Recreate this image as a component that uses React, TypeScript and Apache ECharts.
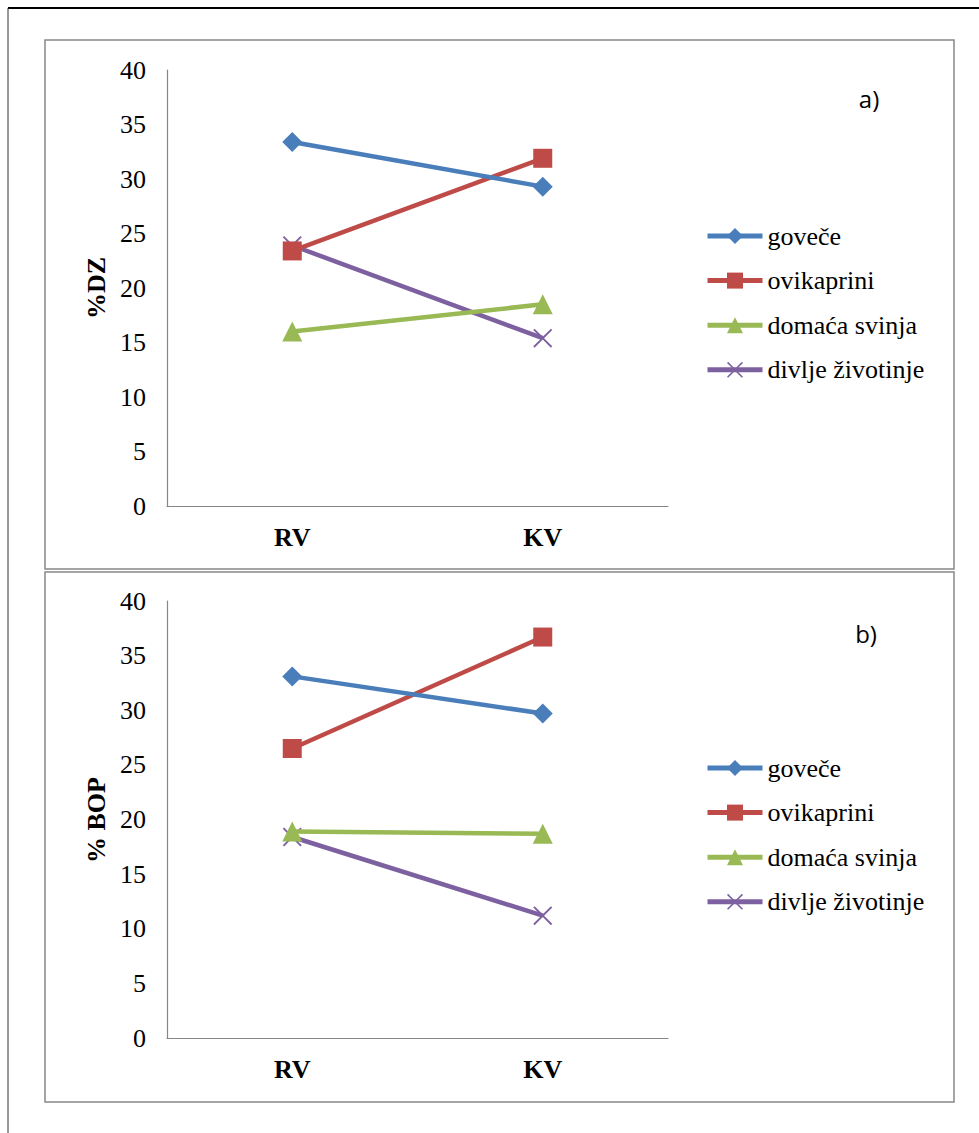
import React, { useEffect, useRef } from "react";
import * as echarts from "echarts";

const categories = ["RV", "KV"];
const seriesNames = ["goveče", "ovikaprini", "domaća svinja", "divlje životinje"];
const dzGovece = [33.4, 29.3];
const dzOvikaprini = [23.4, 31.9];
const dzSvinja = [16.0, 18.5];
const dzDivlje = [23.9, 15.4];
const bopGovece = [33.1, 29.7];
const bopOvikaprini = [26.5, 36.7];
const bopSvinja = [18.9, 18.7];
const bopDivlje = [18.4, 11.2];
const yTicks = [0, 5, 10, 15, 20, 25, 30, 35, 40];

const colors = ["#4A7EBB", "#BE4B48", "#98B954", "#7D60A0"];
const crossPath =
  "path://M0,1.4 L1.4,0 L10,8.6 L18.6,0 L20,1.4 L11.4,10 L20,18.6 L18.6,20 L10,11.4 L1.4,20 L0,18.6 L8.6,10 Z";
const symbols = ["diamond", "rect", "triangle", crossPath];
const symbolSizes = [20, 19, 20, 19];

const SERIF = "Times New Roman, Liberation Serif, serif";

export default function App() {
  const ref = useRef<HTMLDivElement>(null);
  useEffect(() => {
    if (!ref.current) return;
    const chart = echarts.init(ref.current, null, { renderer: "svg" });
    const dataA = [dzGovece, dzOvikaprini, dzSvinja, dzDivlje];
    const dataB = [bopGovece, bopOvikaprini, bopSvinja, bopDivlje];
    const mkSeries = (data: number[][], idx: number) =>
      data.map((d, i) => ({
        name: seriesNames[i],
        type: "line",
        xAxisIndex: idx,
        yAxisIndex: idx,
        data: d,
        symbol: symbols[i],
        symbolSize: symbolSizes[i],
        showAllSymbol: true,
        lineStyle: { color: colors[i], width: 4.5 },
        itemStyle: { color: colors[i], borderWidth: 0 },
        z: 10 - i,
      }));
    const yAxisBase = {
      type: "value",
      min: 0,
      max: 40,
      interval: 5,
      axisLine: { show: true, lineStyle: { color: "#868686", width: 1.2 } },
      axisTick: { show: false },
      splitLine: { show: false },
      axisLabel: {
        fontFamily: SERIF,
        fontSize: 26,
        fontWeight: "normal",
        color: "#000",
        margin: 21,
        formatter: (v: number) => (yTicks.includes(v) ? String(v) : ""),
      },
    };
    const xAxisBase = {
      type: "category",
      data: categories,
      boundaryGap: true,
      axisLine: { show: true, lineStyle: { color: "#868686", width: 1.2 } },
      axisTick: { show: false },
      axisLabel: {
        fontFamily: SERIF,
        fontSize: 26,
        fontWeight: "bold",
        color: "#000",
        margin: 18,
      },
    };
    const legendBase = {
      orient: "vertical",
      left: 705,
      padding: 0,
      itemWidth: 55,
      itemHeight: 20,
      itemGap: 18.6,
      lineStyle: { width: 5 },
      textStyle: { fontFamily: SERIF, fontSize: 26, fontWeight: "normal", color: "#000" },
      data: seriesNames,
      selectedMode: false,
    };
    chart.setOption({
      animation: false,
      backgroundColor: "#fff",
      textStyle: { fontFamily: SERIF },
      grid: [
        { left: 167, top: 70, width: 501, height: 436 },
        { left: 167, top: 601, width: 501, height: 437 },
      ],
      xAxis: [
        { ...xAxisBase, gridIndex: 0 },
        { ...xAxisBase, gridIndex: 1 },
      ],
      yAxis: [
        { ...yAxisBase, gridIndex: 0 },
        { ...yAxisBase, gridIndex: 1 },
      ],
      legend: [
        { ...legendBase, top: 223 },
        { ...legendBase, top: 755 },
      ],
      series: [...mkSeries(dataA, 0), ...mkSeries(dataB, 1)],
      graphic: [
        { type: "line", shape: { x1: 8, y1: 8, x2: 979, y2: 8 }, style: { stroke: "#000", lineWidth: 2 }, z: 0 },
        { type: "line", shape: { x1: 8, y1: 8, x2: 8, y2: 1133 }, style: { stroke: "#333", lineWidth: 1 }, z: 0 },
        { type: "rect", shape: { x: 45, y: 40, width: 909, height: 529 }, style: { fill: "none", stroke: "#888", lineWidth: 1.5 }, z: 0 },
        { type: "rect", shape: { x: 45, y: 572, width: 909, height: 530 }, style: { fill: "none", stroke: "#888", lineWidth: 1.5 }, z: 0 },
        {
          type: "text",
          x: 96,
          y: 288,
          rotation: Math.PI / 2,
          style: { text: "%DZ", font: `bold 26px ${SERIF}`, fill: "#000", align: "center", verticalAlign: "middle" },
        },
        {
          type: "text",
          x: 96,
          y: 820,
          rotation: Math.PI / 2,
          style: { text: "% BOP", font: `bold 26px ${SERIF}`, fill: "#000", align: "center", verticalAlign: "middle" },
        },
        {
          type: "text",
          x: 869,
          y: 98,
          style: { text: "a)", font: "24px Open Sans", fill: "#000", align: "center", verticalAlign: "middle" },
        },
        {
          type: "text",
          x: 866,
          y: 633,
          style: { text: "b)", font: "24px Open Sans", fill: "#000", align: "center", verticalAlign: "middle" },
        },
      ],
    });
    return () => chart.dispose();
  }, []);
  return (
    <div
      ref={ref}
      style={{ position: "absolute", left: 0, top: 0, width: 979, height: 1133 }}
    />
  );
}
